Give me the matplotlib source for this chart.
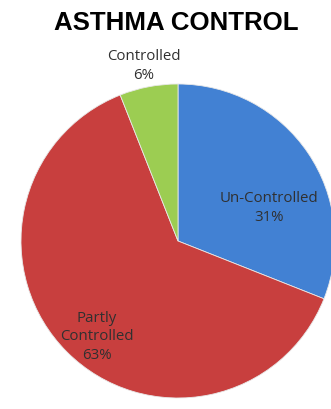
import matplotlib
matplotlib.use("Agg")
import matplotlib.pyplot as plt

# data
categories = ["Controlled", "Un-Controlled", "Partly\nControlled"]
shares = [6, 31, 63]
colors = ["#9ccd52", "#4281d3", "#c83f3e"]

# label spots (pie units) picked to mimic the original layout
label_xy = [(-0.217, 1.115), (0.58, 0.21), (-0.516, -0.611)]

W, H = 331, 409
fig = plt.figure(figsize=(W / 100, H / 100), dpi=100)

cx, cy, r = 178, 241, 157
ax = fig.add_axes([(cx - r) / W, (H - cy - r) / H, 2 * r / W, 2 * r / H])

# order: clockwise from top -> Un-Controlled, Partly, Controlled
order = [1, 2, 0]
wedges, _ = ax.pie([shares[i] for i in order],
                   colors=[colors[i] for i in order],
                   startangle=90, counterclock=False, radius=1,
                   wedgeprops=dict(edgecolor="#e8e8e8", linewidth=0.6))
for w in wedges:
    w.set_clip_on(False)
ax.set_xlim(-1, 1)
ax.set_ylim(-1, 1)
ax.axis("off")

for name, val, (x, y) in zip(categories, shares, label_xy):
    ax.text(x, y, f"{name}\n{val}%", ha="center", va="center",
            fontsize=10.8, color="#303030", linespacing=1.3,
            family="Open Sans", clip_on=False)

fig.text(176 / W, 1 - 23 / H, "ASTHMA CONTROL", ha="center", va="center",
         fontsize=18.6, fontweight="bold", family="Liberation Sans")

fig.savefig("out.png", dpi=100)
